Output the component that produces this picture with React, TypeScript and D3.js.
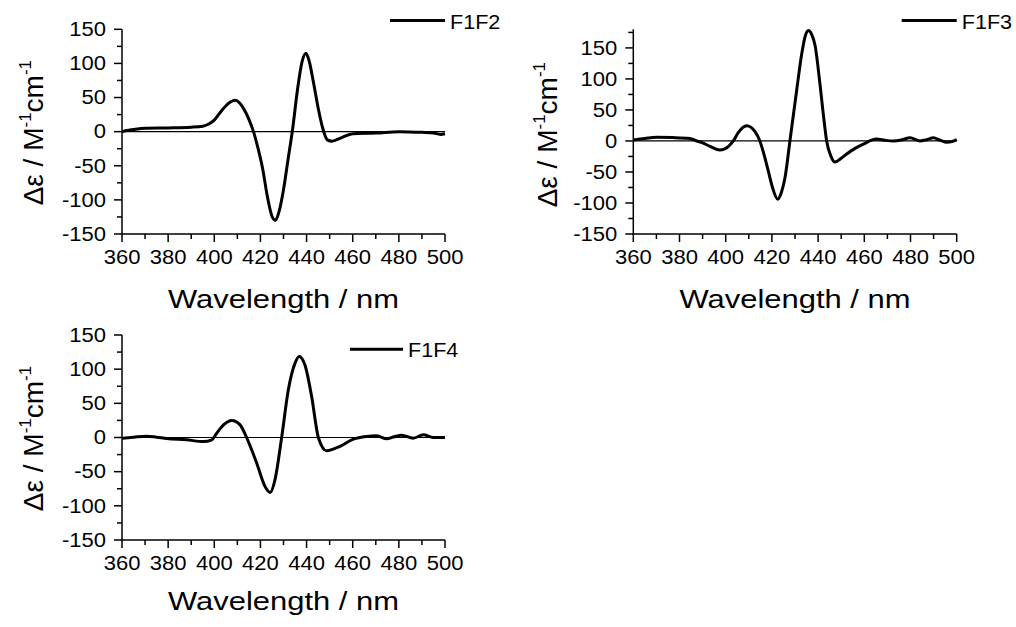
import React from "react";
import * as d3 from "d3";

// ---- data ----
const wl1 = [360, 365, 370, 380, 390, 395, 398, 400, 403, 406, 409, 411, 413, 415, 417, 419, 421, 423, 425, 426.5, 428, 430, 432, 434, 436, 438, 439.7, 441, 443, 445, 447, 449, 451, 455, 460, 470, 480, 490, 495, 498, 500];
const de1 = [0, 3, 5, 5.5, 6.5, 8, 12, 17, 30, 41, 46, 42, 32, 18, 0, -25, -55, -95, -124, -130, -118, -85, -40, 5, 60, 102, 115, 105, 72, 35, 5, -12, -14, -9, -3, -2, 0, -1, -2, -4, -3];

const wl2 = [360, 365, 370, 377, 384.5, 387.4, 390, 393.2, 397.5, 401.1, 403.3, 405.5, 409.1, 412.7, 414.8, 416.6, 418.4, 420.5, 422.5, 424.2, 425.7, 427.8, 430.7, 432.9, 434.5, 435.8, 437.2, 438.7, 440.8, 442.2, 443.7, 445.5, 447.3, 450, 452.4, 456, 459.6, 465.3, 469, 472.6, 476, 479.8, 484.1, 487, 489.9, 493, 495.7, 498, 500];
const de2 = [1.6, 4, 6, 5.5, 4, 0, -3, -8.6, -14.5, -9, 0, 14, 24.7, 15, 0, -22, -48, -78, -94, -82, -58.6, 0, 81, 140, 170, 178, 172, 154, 92, 45, 0, -24, -34, -28, -21, -12, -5, 3, 1, 0, 1.5, 5, 0, 2, 5, 1, -2, -1, 2];

const wl3 = [360, 365, 370.7, 375, 379.4, 388, 395.3, 398.9, 401, 404, 407.6, 411.2, 414, 416.2, 418.4, 422, 424.2, 426.3, 429.2, 432.1, 435, 436.8, 439.3, 442.2, 445.1, 448.7, 451.5, 454.5, 460.3, 466, 470.4, 474.7, 478, 481.2, 486.2, 490.6, 494.9, 500];
const de3 = [-1, 0.5, 2, 0.5, -1.5, -3.4, -6, -3.4, 6, 18.5, 25, 18.5, 0, -18, -37.6, -71.7, -80.5, -62, 0, 69.8, 108.8, 118.5, 106, 60, 0, -19.5, -17, -13, -2.4, 1.5, 2.4, -2, 1, 3.4, -1, 3.9, 0, 0];

const seriesNames = ["F1F2", "F1F3", "F1F4"];
const xTicksMajor = [360, 380, 400, 420, 440, 460, 480, 500];
const xTicksMinor = [370, 390, 410, 430, 450, 470, 490];
const yTicksMajor = [-150, -100, -50, 0, 50, 100, 150];
const yTicksMinor12 = [-125, -75, -25, 25, 75, 125];
const yTicksMinor2 = [-125, -75, -25, 25, 75, 125, 175];

const FONT = "'Liberation Sans', Arial, Helvetica, sans-serif";

type PanelProps = {
  wl: number[];
  de: number[];
  name: string;
  left: number;
  right: number;
  top: number;
  bottom: number;
  yMax: number;
  yMinor: number[];
  legendX1: number;
  legendX2: number;
  legendY: number;
  ylabelX: number;
  ylabelYOffset: number;
  titleY: number;
};

function Panel(p: PanelProps) {
  const x = d3.scaleLinear().domain([360, 500]).range([p.left, p.right]);
  const y = d3.scaleLinear().domain([-150, p.yMax]).range([p.bottom, p.top]);
  const pts: [number, number][] = p.wl.map((w, i) => [w, p.de[i]]);
  const line = d3
    .line<[number, number]>()
    .x((d) => x(d[0]))
    .y((d) => y(d[1]))
    .curve(d3.curveMonotoneX);
  const tickSx = 1.13;
  const titleSx = 1.19;
  const yc = (p.top + p.bottom) / 2 + p.ylabelYOffset;
  return (
    <g>
      {/* zero line */}
      <line x1={x(360)} x2={x(500)} y1={y(0)} y2={y(0)} stroke="#000" strokeWidth={1.2} />
      {/* data */}
      <path d={line(pts) || ""} fill="none" stroke="#000" strokeWidth={3} strokeLinejoin="round" />
      {/* axes */}
      <line x1={p.left} x2={p.left} y1={p.top} y2={p.bottom} stroke="#000" strokeWidth={1.5} />
      <line x1={p.left} x2={p.right} y1={p.bottom} y2={p.bottom} stroke="#000" strokeWidth={1.5} />
      {yTicksMajor.map((t) => (
        <g key={"ym" + t}>
          <line x1={p.left - 8} x2={p.left} y1={y(t)} y2={y(t)} stroke="#000" strokeWidth={1.5} />
          <text
            transform={`translate(${p.left - 16},${y(t) + 6.8}) scale(${tickSx},1)`}
            textAnchor="end"
            fontSize={19.5}
            fontFamily={FONT}
            fill="#000"
          >
            {t}
          </text>
        </g>
      ))}
      {p.yMinor.map((t) => (
        <line key={"yn" + t} x1={p.left - 5} x2={p.left} y1={y(t)} y2={y(t)} stroke="#000" strokeWidth={1.5} />
      ))}
      {xTicksMajor.map((t) => (
        <g key={"xm" + t}>
          <line x1={x(t)} x2={x(t)} y1={p.bottom} y2={p.bottom + 8} stroke="#000" strokeWidth={1.5} />
          <text
            transform={`translate(${x(t)},${p.bottom + 29.5}) scale(${tickSx},1)`}
            textAnchor="middle"
            fontSize={19.5}
            fontFamily={FONT}
            fill="#000"
          >
            {t}
          </text>
        </g>
      ))}
      {xTicksMinor.map((t) => (
        <line key={"xn" + t} x1={x(t)} x2={x(t)} y1={p.bottom} y2={p.bottom + 5} stroke="#000" strokeWidth={1.5} />
      ))}
      {/* x title */}
      <text
        transform={`translate(${(p.left + p.right) / 2},${p.titleY}) scale(${titleSx},1)`}
        textAnchor="middle"
        fontSize={26}
        fontFamily={FONT}
        fill="#000"
      >
        Wavelength / nm
      </text>
      {/* y title */}
      <text
        transform={`translate(${p.ylabelX},${yc}) rotate(-90)`}
        textAnchor="middle"
        fontSize={28}
        fontFamily={FONT}
        fill="#000"
      >
        Δε / M
        <tspan fontSize={17} dy={-12}>-1</tspan>
        <tspan dy={12}>cm</tspan>
        <tspan fontSize={17} dy={-12}>-1</tspan>
      </text>
      {/* legend */}
      <line x1={p.legendX1} x2={p.legendX2} y1={p.legendY} y2={p.legendY} stroke="#000" strokeWidth={3} />
      <text
        transform={`translate(${p.legendX2 + 5},${p.legendY + 8}) scale(1.08,1)`}
        fontSize={20}
        fontFamily={FONT}
        fill="#000"
      >
        {p.name}
      </text>
    </g>
  );
}

export default function App() {
  return (
    <svg
      width={1016}
      height={627}
      style={{ position: "absolute", left: 0, top: 0, background: "#fff" }}
    >
      <rect x={0} y={0} width={1016} height={627} fill="#fff" />
      <Panel
        wl={wl1}
        de={de1}
        name={seriesNames[0]}
        left={122}
        right={445}
        top={29.3}
        bottom={234}
        yMax={150}
        yMinor={yTicksMinor12}
        legendX1={390}
        legendX2={445}
        legendY={20.5}
        ylabelX={43}
        ylabelYOffset={1}
        titleY={308}
      />
      <Panel
        wl={wl2}
        de={de2}
        name={seriesNames[1]}
        left={633.3}
        right={956.7}
        top={29.3}
        bottom={234}
        yMax={180}
        yMinor={yTicksMinor2}
        legendX1={901.7}
        legendX2={956.7}
        legendY={20.5}
        ylabelX={557}
        ylabelYOffset={3}
        titleY={308}
      />
      <Panel
        wl={wl3}
        de={de3}
        name={seriesNames[2]}
        left={122}
        right={445}
        top={335}
        bottom={540}
        yMax={150}
        yMinor={yTicksMinor12}
        legendX1={350}
        legendX2={403}
        legendY={349.3}
        ylabelX={43}
        ylabelYOffset={1}
        titleY={610}
      />
    </svg>
  );
}
